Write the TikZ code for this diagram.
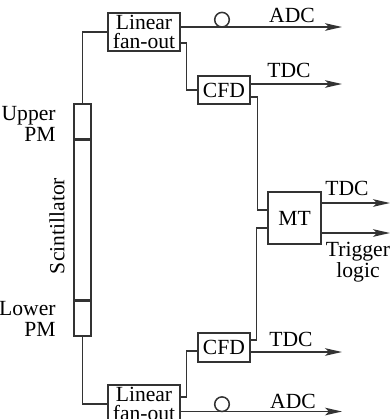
\documentclass[tikz,border=0pt]{standalone}
\usepackage{fontspec}
\setmainfont{Liberation Serif}
\usetikzlibrary{arrows.meta,calc,positioning}
\tikzset{sig/.style={-{Stealth[length=8.5pt,width=3.8pt,inset=2pt]}},
  unit/.style={draw, inner sep=0pt, align=center, font=\fontsize{10.8}{9.8}\selectfont},
  tube/.style={draw, minimum width=8.5pt, inner sep=0pt},
  gate/.style={draw, circle, minimum size=7.3pt, inner sep=0pt},
  lbl/.style={align=center, font=\fontsize{10.8}{10.5}\selectfont}}

\begin{document}
\begin{tikzpicture}[x=0.5pt, y=-0.5pt, line width=0.75pt, draw=black!80]
  \clip (0,0) rectangle (390,419);
  % scintillator with its two PMs
  \node[tube, minimum height=17.5pt] (upm) at (82.5,121.5) {};
  \node[tube, minimum height=79.5pt, anchor=north] (scint) at (upm.south) {};
  \node[tube, minimum height=17.5pt, anchor=north] (lpm) at (scint.south) {};
  \node[lbl, align=right, anchor=east] (upml) at (63,123.5) {Upper\\PM};
  \node[lbl, align=right, anchor=east] (lpml) at (63,318.5) {Lower\\PM};
  \node[lbl, rotate=90] (scintl) at (57,226) {Scintillator};
  % electronics
  \node[unit, minimum width=36pt, minimum height=19pt] (fanU) at (144,32) {Linear\\fan-out};
  \node[unit, minimum width=26pt, minimum height=14pt] (cfdU) at (224,90) {CFD};
  \node[unit, minimum width=26.5pt, minimum height=26pt] (mt) at (294.5,218) {MT};
  \node[unit, minimum width=26pt, minimum height=14.5pt] (cfdL) at (224,347.5) {CFD};
  \node[unit, minimum width=36pt, minimum height=19pt] (fanL) at (144,404) {Linear\\fan-out};
  \node[gate] (gateU) at (222,19.7) {};
  \node[gate] (gateL) at (222,404.2) {};
  % free ends of the outputs
  \coordinate (adcU) at (342,27);
  \coordinate (tdcU) at (342,84);
  \coordinate (tdcM) at (390,203);
  \coordinate (trgM) at (390,233);
  \coordinate (tdcL) at (342,352);
  \coordinate (adcL) at (342,411.5);
  % upper channel
  \draw (upm.north) |- (fanU.west);
  \draw[sig] ($(fanU.east)+(0,-5)$) -- (adcU);
  \draw ($(fanU.east)+(0,11)$) -- ++(6,0) |- (cfdU.west);
  \draw[sig] ($(cfdU.east)+(0,-6)$) -- (tdcU);
  \draw ($(cfdU.east)+(0,7)$) -- ++(7,0) |- ($(mt.west)+(0,-8)$);
  % lower channel
  \draw (lpm.south) |- (fanL.west);
  \draw[sig] ($(fanL.east)+(0,7.5)$) -- (adcL);
  \draw ($(fanL.east)+(0,-7)$) -- ++(6,0) |- ($(cfdL.west)+(0,3.5)$);
  \draw[sig] ($(cfdL.east)+(0,4.5)$) -- (tdcL);
  \draw ($(cfdL.east)+(0,-7.5)$) -- ++(6,0) |- ($(mt.west)+(0,10)$);
  % MT outputs
  \draw[sig] (mt.east |- tdcM) -- (tdcM);
  \draw[sig] (mt.east |- trgM) -- (trgM);
  % output labels
  \node[lbl] (adcUl) at (292,15.5) {ADC};
  \node[lbl] (tdcUl) at (289,70) {TDC};
  \node[lbl] (tdcMl) at (347,188.5) {TDC};
  \node[lbl] (trgMl) at (358,262) {Trigger\\logic};
  \node[lbl] (tdcLl) at (291,339) {TDC};
  \node[lbl] (adcLl) at (293,401) {ADC};
\end{tikzpicture}
\end{document}
